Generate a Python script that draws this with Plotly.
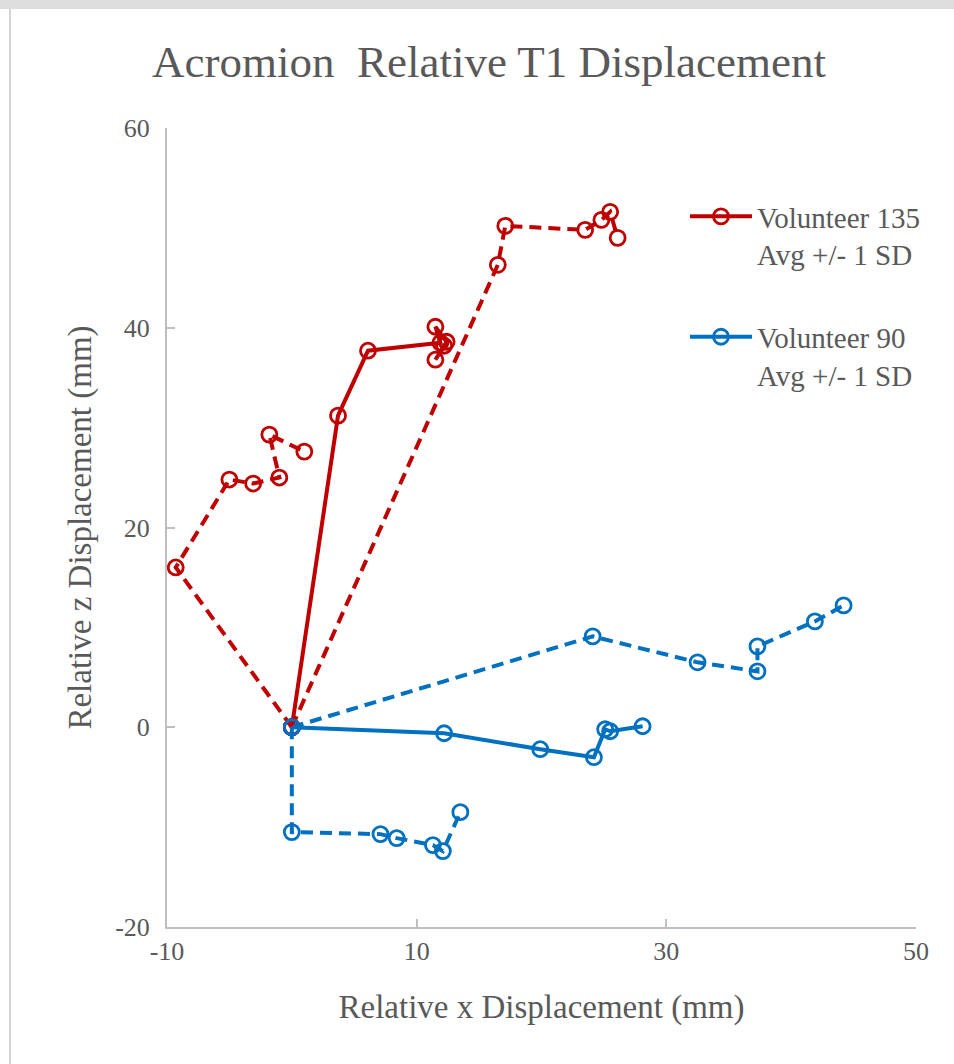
import plotly.graph_objects as go

# Volunteer 135 (red): average path and +/- 1 SD paths
v135_avg_x = [0, 3.7, 6.1, 11.9, 11.5, 12.4, 11.5, 12.2]
v135_avg_z = [0, 31.2, 37.7, 38.5, 40.1, 38.6, 36.8, 38.2]
v135_hi_x = [0, 16.5, 17.1, 23.5, 24.8, 25.5, 26.1]
v135_hi_z = [0, 46.3, 50.2, 49.8, 50.8, 51.6, 49.0]
v135_lo_x = [0, -9.3, -5.0, -3.1, -1.0, -1.8, 1.0]
v135_lo_z = [0, 16.0, 24.8, 24.4, 25.0, 29.3, 27.6]

# Volunteer 90 (blue): average path and +/- 1 SD paths
v90_avg_x = [0, 12.2, 19.9, 24.2, 25.1, 25.5, 28.1]
v90_avg_z = [0, -0.6, -2.2, -3.0, -0.2, -0.4, 0.1]
v90_hi_x = [0, 24.1, 32.5, 37.3, 37.3, 41.9, 44.2]
v90_hi_z = [0, 9.1, 6.5, 5.6, 8.1, 10.6, 12.2]
v90_lo_x = [0, 0, 7.1, 8.4, 11.3, 12.1, 13.5]
v90_lo_z = [0, -10.5, -10.7, -11.1, -11.8, -12.4, -8.5]

x_ticks = [-10, 10, 30, 50]
x_tick_text = ["-10", "10", "30", "50"]
z_ticks = [-20, 0, 20, 40, 60]
z_tick_text = ["-20", "0", "20", "40", "60"]

RED = "#c00000"
BLUE = "#0070c0"
TXT = "#595959"
AXIS = "#bfbfbf"
FONT = "Liberation Serif"

W, H = 954, 1064
ML, MR, MT, MB = 167, 38, 128, 137
PW, PH = W - ML - MR, H - MT - MB


def px_x(p):
    return (p - ML) / PW


def px_y(p):
    return (H - MB - p) / PH


DASH = "12px,7px"


def path(x, z, color, dash, name=None, group=None, legend=False):
    return go.Scatter(
        x=x, y=z, mode="lines+markers", name=name,
        legendgroup=group, showlegend=legend,
        line=dict(color=color, width=4, dash=dash),
        marker=dict(symbol="circle-open", size=15, color=color,
                    line=dict(width=2.8, color=color)),
        hoverinfo="x+y",
    )


fig = go.Figure()
fig.add_trace(path(v135_hi_x, v135_hi_z, RED, DASH, group="g135"))
fig.add_trace(path(v135_lo_x, v135_lo_z, RED, DASH, group="g135"))
fig.add_trace(path(v90_hi_x, v90_hi_z, BLUE, DASH, group="g90"))
fig.add_trace(path(v90_lo_x, v90_lo_z, BLUE, DASH, group="g90"))
fig.add_trace(path(v135_avg_x, v135_avg_z, RED, "solid",
                   name="Volunteer 135<br>Avg +/- 1 SD", group="g135", legend=True))
fig.add_trace(path(v90_avg_x, v90_avg_z, BLUE, "solid",
                   name="Volunteer 90<br>Avg +/- 1 SD", group="g90", legend=True))

fig.update_layout(
    width=W, height=H,
    margin=dict(l=ML, r=MR, t=MT, b=MB, autoexpand=False),
    paper_bgcolor="white", plot_bgcolor="white",
    font=dict(family=FONT, color=TXT),
    title=dict(text="Acromion  Relative T1 Displacement",
               font=dict(family=FONT, size=45, color=TXT),
               x=489 / W, xref="container", xanchor="center",
               y=1 - 61 / H, yref="container", yanchor="middle"),
    showlegend=True,
    legend=dict(x=px_x(685), y=px_y(191), xanchor="left", yanchor="top",
                font=dict(family=FONT, size=29, color=TXT),
                traceorder="grouped", tracegroupgap=42, valign="top",
                itemwidth=62, bgcolor="rgba(0,0,0,0)"),
    xaxis=dict(range=[-10, 50], tickvals=x_ticks, ticktext=x_tick_text,
               showgrid=False, zeroline=False,
               showline=True, linecolor=AXIS, linewidth=2,
               ticks="inside", ticklen=8, tickcolor=AXIS, tickwidth=2,
               tickfont=dict(family=FONT, size=26, color=TXT),
               title=dict(text="Relative x Displacement (mm)",
                          font=dict(family=FONT, size=33, color=TXT), standoff=30)),
    yaxis=dict(range=[-20, 60], tickvals=z_ticks, ticktext=z_tick_text,
               showgrid=False, zeroline=False,
               showline=True, linecolor=AXIS, linewidth=2,
               ticks="inside", ticklen=8, tickcolor=AXIS, tickwidth=2,
               ticklabelstandoff=10,
               tickfont=dict(family=FONT, size=26, color=TXT),
               title=dict(text="Relative z Displacement (mm)",
                          font=dict(family=FONT, size=33, color=TXT), standoff=14)),
    shapes=[
        # frame around the chart area
        dict(type="rect", xref="paper", yref="paper", layer="below",
             x0=px_x(0), x1=px_x(W + 5), y0=px_y(0), y1=px_y(9),
             fillcolor="#dedede", line=dict(width=0)),
        dict(type="line", xref="paper", yref="paper",
             x0=px_x(10), x1=px_x(10), y0=px_y(9), y1=px_y(H + 5),
             line=dict(color="#d4d4d4", width=2)),
    ],
)

fig.write_html("out.html")
